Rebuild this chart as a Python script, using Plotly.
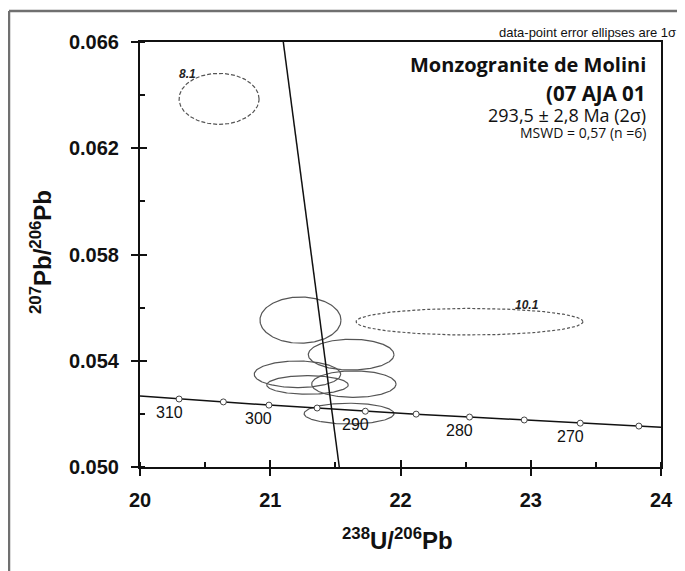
import numpy as np
import plotly.graph_objects as go

# ---------------- data ----------------
conc_ages = [310, 305, 300, 295, 290, 285, 280, 275, 270, 265]
conc_x = [20.30, 20.64, 20.99, 21.36, 21.73, 22.12, 22.53, 22.95, 23.38, 23.83]
conc_y = [0.05256, 0.05245, 0.05233, 0.05222, 0.05210, 0.05199, 0.05188, 0.05177, 0.05165, 0.05154]
conc_line_x = [20.00] + conc_x + [24.00]
conc_line_y = [0.05267] + conc_y + [0.05150]
age_labels = [310, 300, 290, 280, 270]

disc_x = [21.10, 21.53]
disc_y = [0.0660, 0.0500]

ell_names = ["8.1", "a", "b", "c", "d", "e", "f", "10.1"]
ell_cx = [20.607, 21.232, 21.621, 21.209, 21.286, 21.642, 21.605, 22.530]
ell_cy = [0.06386, 0.05553, 0.05423, 0.05349, 0.05309, 0.05312, 0.05201, 0.05547]
ell_ax = [0.307, 0.311, 0.329, 0.332, 0.313, 0.324, 0.345, 0.871]
ell_ay = [0.00096, 0.00087, 0.00058, 0.00050, 0.00035, 0.00050, 0.00039, 0.00050]
ell_dash = ["4px,2px", "solid", "solid", "solid", "solid", "solid", "solid", "3px,2px"]
ell_label_x = [20.361, 22.971]
ell_label_y = [0.06480, 0.05610]
ell_label_text = ["8.1", "10.1"]

x_ticks = [20, 21, 22, 23, 24]
y_ticks = [0.050, 0.054, 0.058, 0.062, 0.066]

# ---------------- figure ----------------
fig = go.Figure()
t = np.linspace(0, 2 * np.pi, 200)
for cx, cy, ax, ay, d in zip(ell_cx, ell_cy, ell_ax, ell_ay, ell_dash):
    fig.add_trace(go.Scatter(x=cx + ax * np.cos(t), y=cy + ay * np.sin(t), mode="lines",
                             line=dict(color="#555555", width=1.2, dash=d),
                             hoverinfo="skip", showlegend=False))

fig.add_trace(go.Scatter(x=disc_x, y=disc_y, mode="lines",
                         line=dict(color="#111111", width=1.5), showlegend=False))
fig.add_trace(go.Scatter(x=conc_line_x, y=conc_line_y, mode="lines",
                         line=dict(color="#111111", width=1.5), showlegend=False))
fig.add_trace(go.Scatter(x=conc_x, y=conc_y, mode="markers",
                         marker=dict(size=6, color="white", line=dict(color="#444444", width=1)),
                         showlegend=False))
# dummy trace to carry the overlay axes (inside part of major ticks)
fig.add_trace(go.Scatter(x=[None], y=[None], xaxis="x2", yaxis="y2", showlegend=False))

for a in age_labels:
    i = conc_ages.index(a)
    fig.add_annotation(x=conc_x[i], y=conc_y[i], text=str(a), showarrow=False,
                       xshift=-10, yshift=-13, xanchor="center", yanchor="middle",
                       font=dict(family="Liberation Sans", size=16, color="#111111"))
for tx, ty, tt in zip(ell_label_x, ell_label_y, ell_label_text):
    fig.add_annotation(x=tx, y=ty, text="<b><i>" + tt + "</i></b>", showarrow=False,
                       xanchor="center", yanchor="middle",
                       font=dict(family="Liberation Sans", size=12, color="#222222"))

# page has an 8px body margin: figure is placed at (8, 8) in the window
OFF = 8
W, H = 685 - OFF, 571 - OFF
L, R, T, B = 140 - OFF, 24, 42 - OFF, 104
pw, ph = W - L - R, H - T - B
px = lambda p: (p - 140) / pw
py = lambda p: (467 - p) / ph

tickfont = dict(family="Liberation Sans", size=20, color="#111111")
common = dict(showgrid=False, zeroline=False, showline=True, linecolor="#111111", linewidth=2,
              ticks="outside", ticklen=7, tickwidth=1.5, tickcolor="#111111")
fig.update_layout(
    width=W, height=H,
    margin=dict(l=L, r=R, t=T, b=B),
    paper_bgcolor="white", plot_bgcolor="white",
    xaxis=dict(range=[20, 24], tickvals=x_ticks, ticktext=["<b>%d</b>" % v for v in x_ticks],
               tickfont=tickfont, mirror=True, ticklabelstandoff=7,
               minor=dict(ticks="inside", dtick=0.5, ticklen=5, tickwidth=1.5, tickcolor="#111111"),
               **common),
    yaxis=dict(range=[0.050, 0.066], tickvals=y_ticks, ticktext=["<b>%.3f</b>" % v for v in y_ticks],
               tickfont=tickfont, mirror=True, ticklabelstandoff=8,
               minor=dict(ticks="inside", dtick=0.002, tick0=0.050, ticklen=5, tickwidth=1.5,
                          tickcolor="#111111"),
               **common),
    xaxis2=dict(range=[20, 24], overlaying="x", anchor="y", side="bottom", tickvals=x_ticks,
                showticklabels=False, ticks="inside", ticklen=7, tickwidth=1.5,
                tickcolor="#111111", showgrid=False, zeroline=False, showline=False),
    yaxis2=dict(range=[0.050, 0.066], overlaying="y", anchor="x", side="left", tickvals=y_ticks,
                showticklabels=False, ticks="inside", ticklen=7, tickwidth=1.5,
                tickcolor="#111111", showgrid=False, zeroline=False, showline=False),
)

# outer frame (top and left only)
fig.add_shape(type="line", xref="paper", yref="paper", x0=px(9), x1=px(700), y0=py(11), y1=py(11),
              line=dict(color="#707070", width=2.5))
fig.add_shape(type="line", xref="paper", yref="paper", x0=px(9), x1=px(9), y0=py(11), y1=py(580),
              line=dict(color="#707070", width=2.5))

# axis titles
fig.add_annotation(xref="paper", yref="paper", x=px(397), y=py(539), xanchor="center", yanchor="middle",
                   text="<b><sup>238</sup>U/<sup>206</sup>Pb</b>", showarrow=False,
                   font=dict(family="Liberation Sans", size=24, color="#111111"))
fig.add_annotation(xref="paper", yref="paper", x=px(41), y=py(252), textangle=-90,
                   xanchor="center", yanchor="middle",
                   text="<b><sup>207</sup>Pb/<sup>206</sup>Pb</b>", showarrow=False,
                   font=dict(family="Liberation Sans", size=24, color="#111111"))

# header texts
hdr = dict(xref="paper", yref="paper", xanchor="right", yanchor="middle", showarrow=False)
fig.add_annotation(x=px(678), y=py(33), text="data-point error ellipses are 1σ",
                   font=dict(family="Liberation Sans", size=13, color="#111111"), **hdr)
fig.add_annotation(x=px(648), y=py(64), text="<b>Monzogranite de Molini</b>",
                   font=dict(family="Open Sans", size=20, color="#111111"), **hdr)
fig.add_annotation(x=px(648), y=py(93), text="<b>(07 AJA 01</b>",
                   font=dict(family="Open Sans", size=20.5, color="#111111"), **hdr)
fig.add_annotation(x=px(648), y=py(115), text="293,5 ± 2,8 Ma (2σ)",
                   font=dict(family="Open Sans", size=18, color="#111111"), **hdr)
fig.add_annotation(x=px(648), y=py(132), text="MSWD = 0,57 (n =6)",
                   font=dict(family="Open Sans", size=14, color="#111111"), **hdr)

fig.write_html("out.html")
